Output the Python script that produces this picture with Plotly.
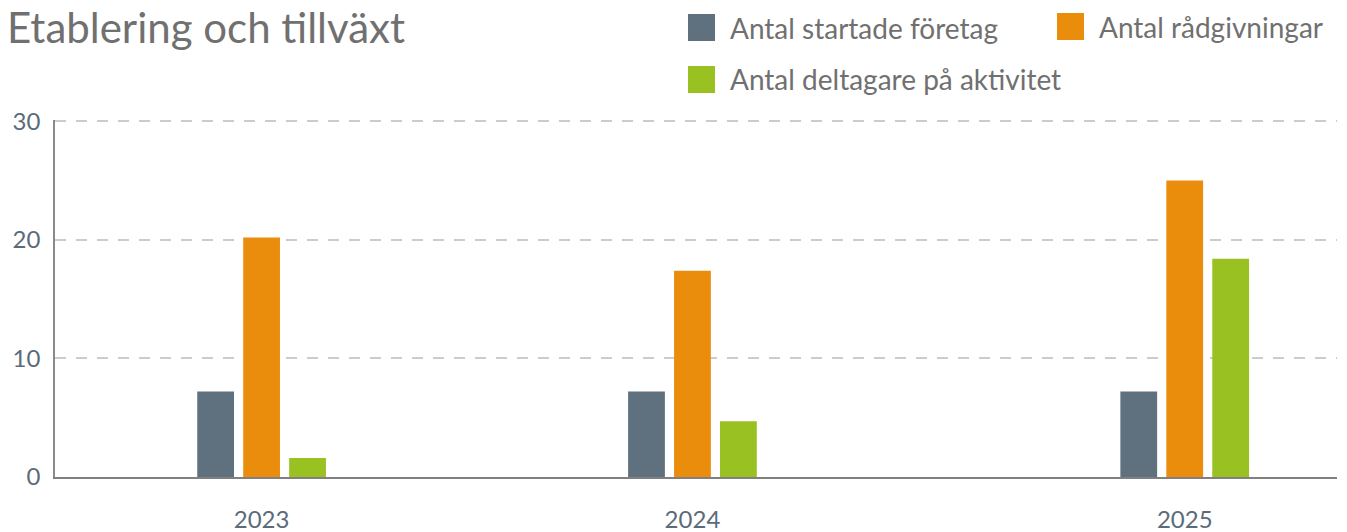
import plotly.graph_objects as go

# ---- data ----
categories = ["2023", "2024", "2025"]
period_dates = ["2023-07-01", "2024-06-30", "2025-08-21"]
series_names = ["Antal startade företag", "Antal rådgivningar", "Antal deltagare på aktivitet"]
started = [7.2, 7.2, 7.2]
advice = [20.2, 17.4, 25.0]
participants = [1.6, 4.7, 18.4]
y_ticks = [0, 10, 20, 30]

# ---- style ----
colors = ["#5f707f", "#ea8c0c", "#98c121"]
W, H = 1347, 532
ML, MR, MT, MB = 55, 10, 120, 55
PW, PH = W - ML - MR, H - MT - MB
FONT = "Lato, 'Open Sans', sans-serif"
TEXT_GREY = "#707070"
TICK_COL = "#5b6b7a"


def px_x(px):
    return (px - ML) / PW


def px_y(py):
    return (H - MB - py) / PH


fig = go.Figure()
for name, vals, col in zip(series_names, [started, advice, participants], colors):
    fig.add_trace(go.Bar(x=period_dates, y=vals, name=name, marker=dict(color=col, line=dict(width=0)),
                         showlegend=False))

# custom legend (large square swatches)
legend_pos = [(688, 14), (1057, 13), (688, 66)]
shapes = []
annotations = []
for (lx, ly), name, col in zip(legend_pos, series_names, colors):
    shapes.append(dict(type="rect", xref="paper", yref="paper",
                       x0=px_x(lx), x1=px_x(lx + 27), y0=px_y(ly + 27), y1=px_y(ly),
                       fillcolor=col, line=dict(width=0)))
    annotations.append(dict(text=name, xref="paper", yref="paper", x=px_x(lx + 40), y=px_y(ly + 13.5),
                            xanchor="left", yanchor="middle", showarrow=False,
                            font=dict(family=FONT, size=28, color=TEXT_GREY)))

fig.update_layout(
    width=W, height=H,
    margin=dict(l=ML, r=MR, t=MT, b=MB),
    paper_bgcolor="white", plot_bgcolor="white",
    barmode="group", bargap=0.68, bargroupgap=0.2,
    title=dict(text="Etablering och tillväxt", x=7 / W, xref="container", xanchor="left",
               y=1 - 28 / H, yref="container", yanchor="middle",
               font=dict(family=FONT, size=42, color=TEXT_GREY)),
    shapes=shapes, annotations=annotations,
    xaxis=dict(type="date", range=["2023-01-07", "2025-12-28"], tickvals=period_dates, ticktext=categories,
               showgrid=False, showline=True, linecolor="#808080", linewidth=1.5, ticks="",
               tickfont=dict(family=FONT, size=24, color=TICK_COL), ticklabelstandoff=20, zeroline=False,
               automargin=False),
    yaxis=dict(range=[0, 30.1], tickvals=y_ticks, showgrid=True, gridcolor="#cccccc", gridwidth=1.5,
               griddash="11px,10px", showline=True, linecolor="#8a8a8a", linewidth=1.5, ticks="",
               zeroline=False, tickfont=dict(family=FONT, size=24, color=TICK_COL), ticklabelstandoff=8,
               automargin=False),
)

fig.write_html("out.html", config={"displayModeBar": False},
               post_script="document.body.style.margin='0';")
